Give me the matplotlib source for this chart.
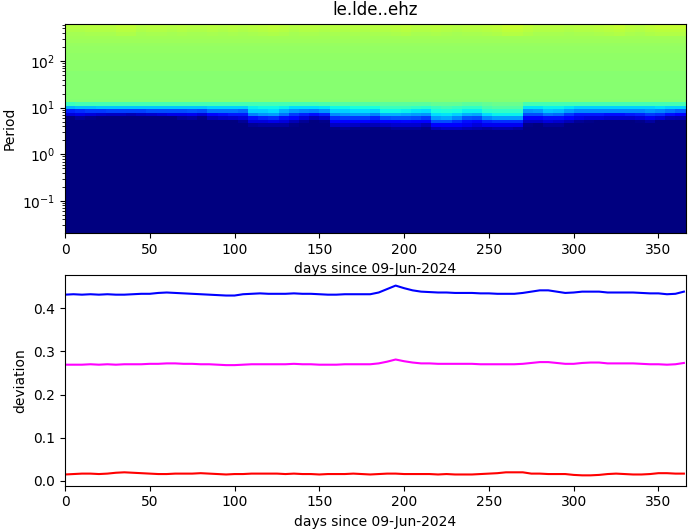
import numpy as np
import matplotlib
matplotlib.use('Agg')
import matplotlib.pyplot as plt

title = 'le.lde..ehz'
xlab = 'days since 09-Jun-2024'

# rows above the transition, top of plot downwards
upper_rows = [.585, .57, .56, .55, .545, .54, .535, .53, .53, .525, .525, .52, .52, .52,
              .515, .515, .515, .515, .515, .515, .515, .515, .51]
# extra yellow in the top rows, one per 6 day column
top_extra = [0, 0, .004, .004, .004, .012, .012, 0, .004, .004, 0, .004, 0, 0, .004, 0, .004, 0,
             .004, .008, .012, .008, 0, .004, .004, 0, .004, 0, .004, 0, .004, .004, .008, .012, .004,
             .004, .008, .004, 0, .004, .004, .008, .012, .02, .02, .012, .004, .004, .004, 0, .004,
             .004, .008, .012, .016, .008, .004, .012, .016, .016, .016]
# transition rows (period about 13 down to 3.3), one list per 6 day column
transition = [
    [.42, .30, .16, .08, 0, 0, 0, 0],
    [.43, .31, .17, .09, .02, 0, 0, 0],
    [.43, .31, .18, .08, .01, 0, 0, 0],
    [.43, .32, .18, .07, 0, 0, 0, 0],
    [.43, .32, .19, .06, 0, 0, 0, 0],
    [.43, .32, .19, .06, 0, 0, 0, 0],
    [.43, .32, .19, .05, 0, 0, 0, 0],
    [.43, .32, .19, .06, 0, 0, 0, 0],
    [.43, .32, .20, .07, 0, 0, 0, 0],
    [.43, .32, .20, .08, 0, 0, 0, 0],
    [.43, .32, .20, .09, 0, 0, 0, 0],
    [.43, .32, .20, .09, .02, 0, 0, 0],
    [.43, .32, .21, .10, .03, 0, 0, 0],
    [.43, .32, .20, .08, .01, 0, 0, 0],
    [.43, .33, .24, .13, .05, 0, 0, 0],
    [.43, .33, .24, .14, .06, 0, 0, 0],
    [.43, .33, .24, .15, .07, 0, 0, 0],
    [.43, .33, .23, .15, .08, .02, 0, 0],
    [.43, .36, .33, .25, .14, .08, .02, 0],
    [.43, .37, .33, .27, .16, .08, .03, 0],
    [.43, .37, .34, .28, .17, .09, .03, 0],
    [.43, .36, .30, .24, .14, .08, .03, 0],
    [.43, .34, .27, .18, .11, .05, .01, 0],
    [.43, .34, .26, .16, .08, .02, 0, 0],
    [.43, .34, .25, .14, .05, 0, 0, 0],
    [.44, .35, .27, .16, .07, .01, 0, 0],
    [.45, .37, .33, .26, .17, .11, .06, .01],
    [.45, .37, .33, .27, .18, .11, .07, .02],
    [.45, .38, .34, .28, .18, .12, .06, .01],
    [.45, .38, .34, .28, .18, .11, .05, .01],
    [.45, .38, .33, .25, .16, .10, .05, 0],
    [.46, .42, .37, .30, .20, .12, .06, .01],
    [.46, .42, .37, .30, .21, .12, .07, .02],
    [.46, .42, .36, .29, .21, .13, .07, .02],
    [.46, .41, .35, .28, .20, .12, .07, .02],
    [.46, .40, .34, .27, .18, .11, .05, .01],
    [.47, .42, .38, .34, .28, .20, .11, .05],
    [.47, .43, .39, .35, .29, .20, .12, .06],
    [.47, .42, .38, .33, .26, .17, .11, .06],
    [.46, .41, .36, .30, .21, .14, .10, .05],
    [.46, .41, .36, .29, .20, .13, .08, .04],
    [.47, .44, .40, .34, .26, .16, .10, .03],
    [.48, .45, .41, .36, .28, .17, .10, .04],
    [.48, .45, .41, .36, .28, .17, .10, .04],
    [.48, .45, .41, .36, .28, .17, .10, .03],
    [.43, .35, .27, .20, .12, .06, .01, 0],
    [.43, .35, .28, .20, .12, .06, 0, 0],
    [.43, .36, .32, .24, .14, .08, .02, 0],
    [.43, .36, .31, .23, .14, .07, .02, 0],
    [.43, .35, .28, .18, .11, .05, 0, 0],
    [.43, .33, .26, .15, .09, .02, 0, 0],
    [.43, .33, .26, .15, .08, .01, 0, 0],
    [.43, .33, .26, .15, .08, 0, 0, 0],
    [.43, .33, .26, .14, .07, 0, 0, 0],
    [.43, .33, .26, .14, .07, 0, 0, 0],
    [.43, .33, .26, .15, .07, 0, 0, 0],
    [.43, .33, .26, .16, .08, .01, 0, 0],
    [.43, .33, .27, .18, .10, .03, 0, 0],
    [.43, .34, .26, .17, .08, 0, 0, 0],
    [.43, .33, .24, .14, .05, 0, 0, 0],
    [.43, .33, .22, .12, .04, 0, 0, 0],
]
n_navy = 30

days = np.arange(0, 370, 5)
blue = [.431, .432, .431, .432, .431, .432, .431, .431, .432, .433, .433, .435, .436, .435,
        .434, .433, .432, .431, .430, .429, .429, .432, .433, .434, .433, .433, .433, .434,
        .433, .433, .432, .431, .431, .432, .432, .432, .432, .436, .444, .452, .446, .441,
        .438, .437, .436, .436, .435, .435, .435, .434, .434, .433, .433, .433, .435, .438,
        .441, .441, .438, .435, .436, .438, .438, .438, .436, .436, .436, .436, .435, .434,
        .434, .432, .433, .438]
magenta = [.269, .269, .269, .270, .269, .270, .269, .270, .270, .270, .271, .271, .272, .272,
           .271, .271, .270, .270, .269, .268, .268, .269, .270, .270, .270, .270, .270, .271,
           .270, .270, .269, .269, .269, .270, .270, .270, .270, .272, .276, .281, .277, .274,
           .272, .272, .271, .271, .271, .271, .271, .270, .270, .270, .270, .270, .271, .273,
           .275, .275, .273, .271, .271, .273, .274, .274, .272, .272, .272, .272, .271, .270,
           .270, .269, .270, .273]
red = [.015, .016, .017, .017, .016, .017, .019, .020, .019, .018, .017, .016, .016, .017,
       .017, .017, .018, .017, .016, .015, .016, .016, .017, .017, .017, .017, .016, .017,
       .016, .016, .015, .016, .016, .016, .017, .016, .015, .016, .017, .017, .016, .016,
       .016, .016, .015, .016, .015, .015, .015, .016, .017, .018, .020, .020, .020, .017,
       .017, .016, .016, .016, .014, .013, .013, .014, .016, .017, .016, .015, .015, .016,
       .018, .018, .017, .017]

trans = np.array(transition).T
upper = np.tile(np.array(upper_rows)[:, None], (1, trans.shape[1]))
upper[:4] = upper[:4] + np.array(top_extra)
navy = np.zeros((n_navy, trans.shape[1]))
grid = np.vstack([upper, trans, navy])[::-1]

# 1/4 octave period bins, 6 day columns
step = np.log10(2) / 4
top_log = 1.118 + step * len(upper_rows)
periods = 10 ** (top_log - step * np.arange(grid.shape[0] + 1))[::-1]
xedges = np.arange(0, 6 * grid.shape[1] + 1, 6)

W, H = 690.0, 531.0
fig = plt.figure(figsize=(W / 100, H / 100), dpi=100)
ax1 = fig.add_axes([65 / W, (H - 233) / H, 620.6 / W, 209.5 / H])
ax1.pcolormesh(xedges, periods, grid, cmap='jet', vmin=0, vmax=1, shading='flat')
ax1.set_yscale('log')
ax1.set_ylim(0.0205, 640)
ax1.set_xlim(0, 366)
ax1.set_ylabel('Period')
ax1.set_xlabel(xlab)
ax1.set_title(title, fontsize=12)

ax2 = fig.add_axes([65 / W, (H - 485.5) / H, 620.6 / W, 210.5 / H])
ax2.plot(days, blue, color='b')
ax2.plot(days, magenta, color='magenta')
ax2.plot(days, red, color='r')
ax2.set_xlim(0, 366)
ax2.set_ylim(-0.0105, 0.4765)
ax2.set_yticks([0, .1, .2, .3, .4])
ax2.set_ylabel('deviation')
ax2.set_xlabel(xlab)

fig.savefig('out.png', dpi=100)
